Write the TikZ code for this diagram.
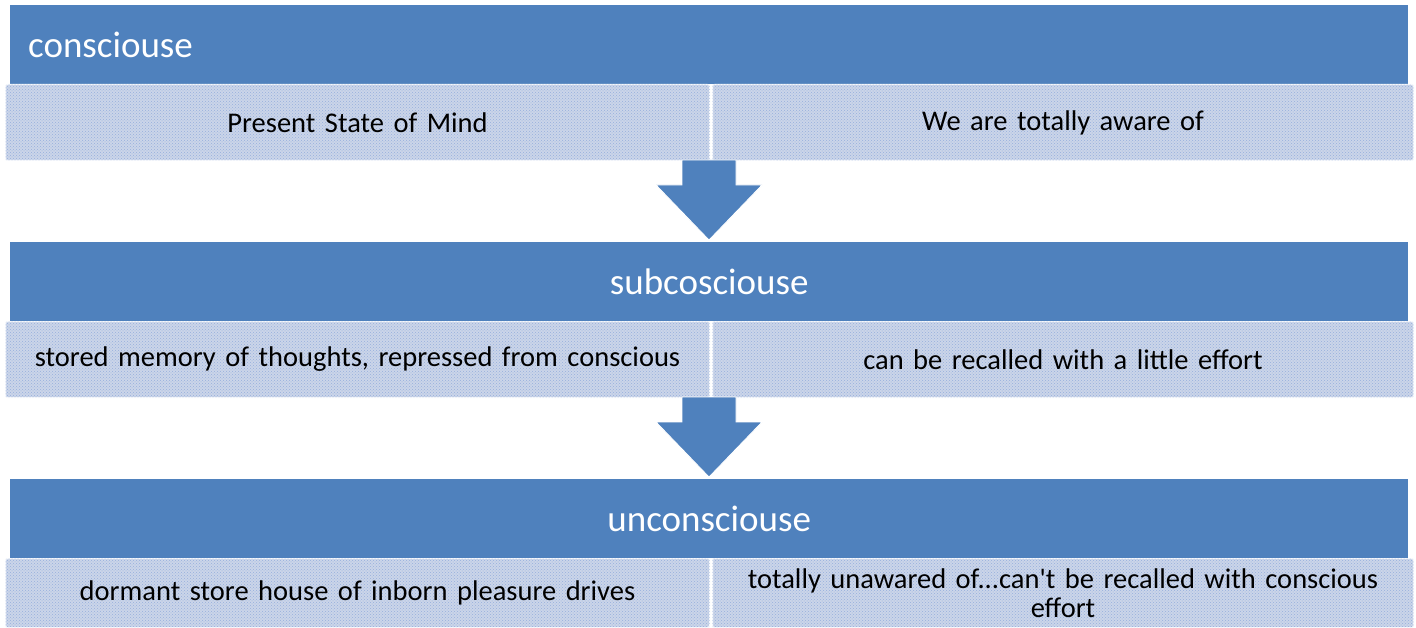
\documentclass[tikz,border=0pt]{standalone}
\usepackage{fontspec}
\setmainfont{Carlito}
\newfontfamily\plaincarlito{Carlito}
\usetikzlibrary{patterns,calc}
\definecolor{hdrblue}{RGB}{79,129,189}
\definecolor{subfill}{RGB}{203,213,233}
\definecolor{subdots}{RGB}{150,175,220}
\begin{document}
\begin{tikzpicture}[x=1pt,y=-1pt,
  hdr/.style={fill=hdrblue,draw=none,text=white,font=\fontsize{37}{42}\selectfont,
    minimum width=1398pt,minimum height=79pt,inner sep=0pt,anchor=north west},
  subbox/.style={fill=subfill,draw=white!85!subfill,line width=1pt,rounded corners=2pt,
    font=\fontsize{28.5}{29}\selectfont,text=black,align=center,inner sep=0pt,anchor=north west,
    postaction={pattern=crosshatch dots,pattern color=subdots}},
  downarrow/.style={fill=hdrblue,draw=white,line width=0.8pt}]
\useasboundingbox (0,0) rectangle (1416,628);
\fill[white] (0,0) rectangle (1416,628);
% row 1
\node[hdr,text width=1362pt,align=left,inner xsep=18pt] (h1) at (10,5) {consciouse};
\node[subbox,minimum width=704pt,minimum height=76pt,text width=690pt] (s1a) at (5,84) {Present State of Mind};
\node[subbox,minimum width=701pt,minimum height=76pt,text width=690pt] (s1b) at (712,84) {We are totally aware of};
% row 2
\node[hdr,align=center] (h2) at (10,242) {subcosciouse};
\node[subbox,minimum width=704pt,minimum height=76pt,text width=690pt] (s2a) at (5,321) {stored memory of thoughts, repressed from conscious};
\node[subbox,minimum width=701pt,minimum height=76pt,text width=690pt] (s2b) at (712,321) {can be recalled with a little effort};
% row 3
\node[hdr,align=center] (h3) at (10,479) {unconsciouse};
\node[subbox,minimum width=704pt,minimum height=69pt,text width=690pt] (s3a) at (5,558) {dormant store house of inborn pleasure drives};
\node[subbox,minimum width=701pt,minimum height=69pt,text width=660pt] (s3b) at (712,558) {totally unawared of...can{\plaincarlito\char39}t be recalled with conscious\\effort};
% arrows
\draw[downarrow] (682,160) -- (736,160) -- (736,185) -- (762,185) -- (709,240) -- (656,185) -- (682,185) -- cycle;
\draw[downarrow] (682,397) -- (736,397) -- (736,422) -- (762,422) -- (709,477) -- (656,422) -- (682,422) -- cycle;
\end{tikzpicture}
\end{document}
